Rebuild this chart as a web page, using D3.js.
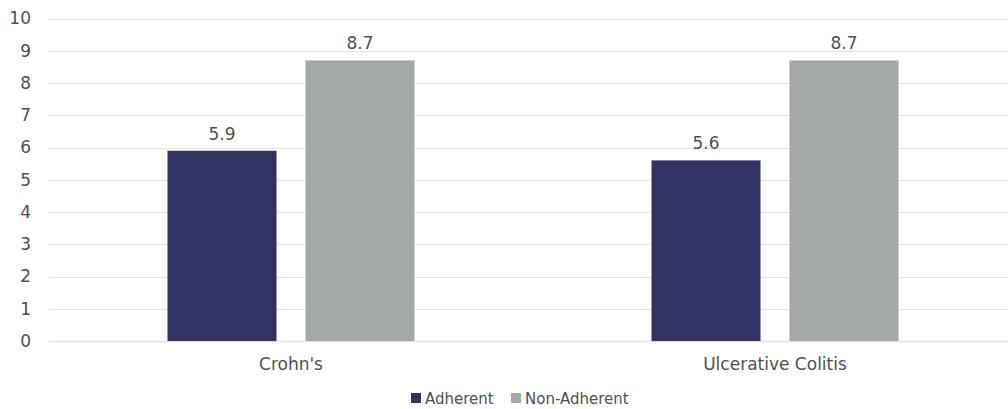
<!DOCTYPE html>
<html>
<head>
<meta charset="utf-8">
<script src="https://cdn.jsdelivr.net/npm/d3@7"></script>
<style>
  body { margin: 0; background: #fff; }
  text { font-family: "DejaVu Sans", Verdana, sans-serif; fill: #505050; }
</style>
</head>
<body>
<div id="chart"></div>
<script>
const categories = ["Crohn's", "Ulcerative Colitis"];
const seriesNames = ["Adherent", "Non-Adherent"];
const adherent = [5.9, 5.6];
const nonAdherent = [8.7, 8.7];
const yTicks = [0, 1, 2, 3, 4, 5, 6, 7, 8, 9, 10];
const colors = ["#323262", "#a4a9a8"];

function drawChart() {
  const W = 1008, H = 409;
  const svg = d3.select('#chart').html('').append('svg')
                .attr('width', W)
                .attr('height', H);

  const x = d3.scaleBand().domain(categories).range([49, 1017]);
  const y = d3.scaleLinear().domain([0, 10]).range([341, 18.5]);
  // two bars of ~109px with a ~29px gap, centred in each band
  const inner = d3.scaleBand().domain(seriesNames)
                  .range([x.bandwidth() / 2 - 123.5, x.bandwidth() / 2 + 123.5])
                  .paddingInner(0.21);

  // gridlines
  svg.append('g').selectAll('line')
     .data(yTicks)
     .join('line')
     .attr('x1', 49).attr('x2', W)
     .attr('y1', d => Math.round(y(d)) + 0.5).attr('y2', d => Math.round(y(d)) + 0.5)
     .attr('stroke', '#e3e3e3')
     .attr('stroke-width', d => d === 0 ? 1.5 : 1);

  // y axis labels
  const yAxis = svg.append('g')
     .attr('transform', 'translate(39,0)')
     .call(d3.axisLeft(y).tickValues(yTicks).tickSize(0).tickPadding(8));
  yAxis.select('.domain').remove();
  yAxis.selectAll('text').style('font-size', '17px').attr('fill', '#505050')
       .style('font-family', '"DejaVu Sans", Verdana, sans-serif');

  // x axis labels
  const xAxis = svg.append('g')
     .attr('transform', 'translate(0,341)')
     .call(d3.axisBottom(x).tickSize(0).tickPadding(17));
  xAxis.select('.domain').remove();
  xAxis.selectAll('text').style('font-size', '17px').attr('fill', '#505050')
       .style('font-family', '"DejaVu Sans", Verdana, sans-serif');

  const rows = categories.map((c, i) => ({ cat: c, vals: [adherent[i], nonAdherent[i]] }));
  const groups = svg.append('g').selectAll('g')
     .data(rows)
     .join('g')
     .attr('transform', d => `translate(${x(d.cat)},0)`);

  groups.selectAll('rect')
     .data(d => d.vals.map((v, j) => ({ s: seriesNames[j], v, j })))
     .join('rect')
     .attr('x', d => inner(d.s))
     .attr('width', inner.bandwidth())
     .attr('y', d => y(d.v))
     .attr('height', d => y(0) - y(d.v))
     .attr('fill', d => colors[d.j]);

  groups.selectAll('text.lbl')
     .data(d => d.vals.map((v, j) => ({ s: seriesNames[j], v, j })))
     .join('text')
     .attr('class', 'lbl')
     .attr('x', d => inner(d.s) + inner.bandwidth() / 2)
     .attr('y', d => y(d.v) - 11)
     .attr('text-anchor', 'middle')
     .style('font-size', '17px')
     .text(d => d.v.toFixed(1));

  // legend
  const legend = svg.append('g').attr('transform', 'translate(411,393)');
  const legendX = [0, 100];
  seriesNames.forEach((s, i) => {
    legend.append('rect')
          .attr('x', legendX[i]).attr('y', 0)
          .attr('width', 10).attr('height', 10)
          .attr('fill', colors[i]);
    legend.append('text')
          .attr('x', legendX[i] + 14).attr('y', 10.5)
          .style('font-size', '15px')
          .text(s);
  });
}

drawChart();
</script>
</body>
</html>
